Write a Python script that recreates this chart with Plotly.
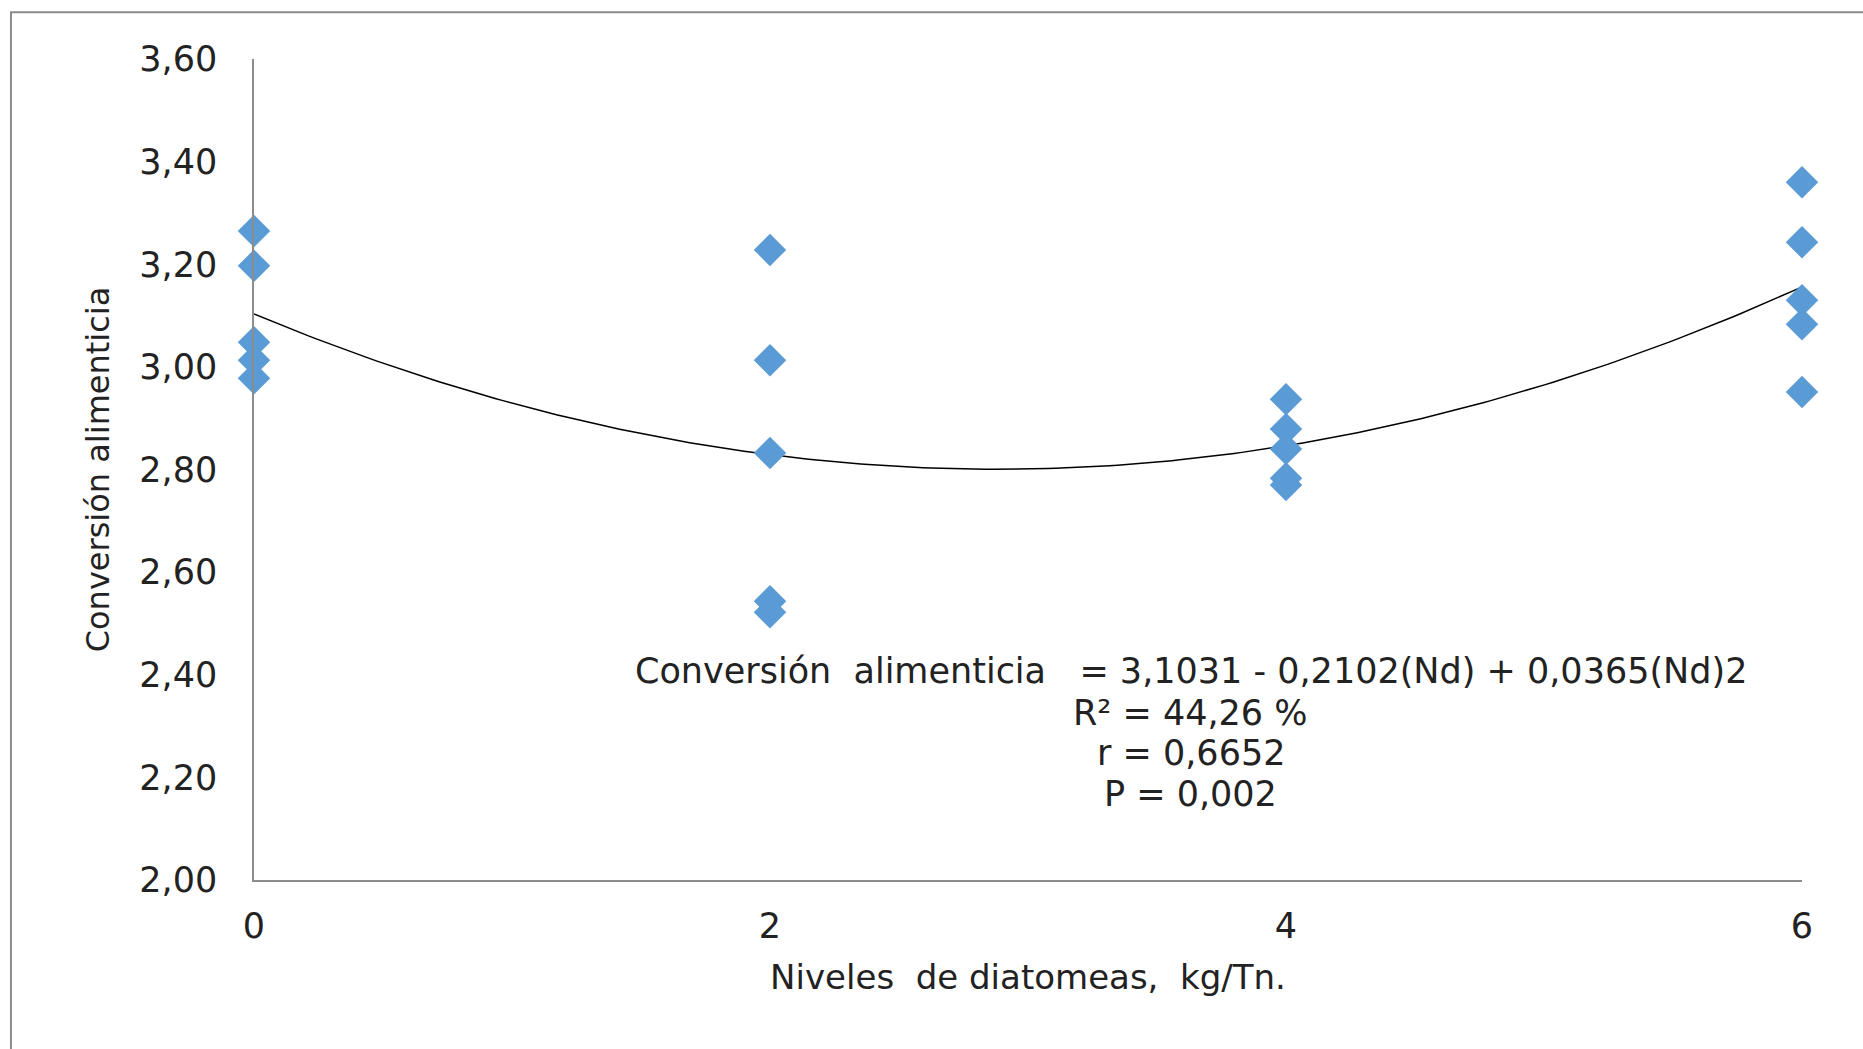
import numpy as np
import plotly.graph_objects as go

# Data
niveles = [0, 0, 0, 0, 0,
           2, 2, 2, 2, 2,
           4, 4, 4, 4, 4,
           6, 6, 6, 6, 6]
conversion = [3.265, 3.197, 3.048, 3.013, 2.978,
              3.228, 3.013, 2.832, 2.543, 2.522,
              2.937, 2.879, 2.840, 2.783, 2.770,
              3.360, 3.243, 3.130, 3.083, 2.951]

# Fitted quadratic (coefficients shown on the chart)
coef_a, coef_b, coef_c = 3.1031, -0.2102, 0.0365
y_ticks = [2.00, 2.20, 2.40, 2.60, 2.80, 3.00, 3.20, 3.40, 3.60]
y_ticklabels = ["2,00", "2,20", "2,40", "2,60", "2,80", "3,00", "3,20", "3,40", "3,60"]
x_ticks = [0, 2, 4, 6]

nb = "\u00a0"
eq_lines = [
    f"Conversión{nb}{nb}alimenticia{nb}{nb}{nb}={nb}3,1031{nb}-{nb}0,2102(Nd){nb}+{nb}0,0365(Nd)2",
    "R² = 44,26 %",
    "r = 0,6652",
    "P = 0,002",
]
eq_y = [2.407, 2.326, 2.247, 2.167]

xs = np.linspace(0, 6, 200)
ys = coef_a + coef_b * xs + coef_c * xs ** 2

FONT = "DejaVu Sans, Liberation Sans, Arial, sans-serif"
TXT = "#222222"

fig = go.Figure()
fig.add_trace(go.Scatter(
    x=xs, y=ys, mode="lines",
    line=dict(color="#000000", width=1.5),
    showlegend=False, cliponaxis=False,
))
fig.add_trace(go.Scatter(
    x=niveles, y=conversion, mode="markers",
    marker=dict(symbol="diamond", size=25, color="#5B9BD5", line=dict(width=0)),
    showlegend=False, cliponaxis=False,
))

for line, yy in zip(eq_lines, eq_y):
    fig.add_annotation(
        x=3.63, y=yy, xref="x", yref="y", text=line, showarrow=False,
        align="center", font=dict(family=FONT, size=35, color=TXT),
    )

fig.add_shape(type="rect", xref="paper", yref="paper",
              x0=-0.157, y0=-0.4, x1=1.2, y1=1.057,
              line=dict(color="#8c8c8c", width=2), fillcolor="rgba(0,0,0,0)", layer="below")

fig.update_layout(
    width=1863, height=1049,
    margin=dict(l=254, r=61, t=59, b=169),
    paper_bgcolor="white", plot_bgcolor="white",
    font=dict(family=FONT, size=35, color=TXT),
)
fig.update_xaxes(
    range=[0, 6], tickvals=x_ticks, ticktext=[str(v) for v in x_ticks],
    showgrid=False, zeroline=False, showline=True, linecolor="#8c8c8c", linewidth=1.5,
    ticks="", ticklabelstandoff=14,
    title=dict(text=f"Niveles{nb}{nb}de{nb}diatomeas,{nb}{nb}kg/Tn.", standoff=20,
               font=dict(family=FONT, size=34, color=TXT)),
)
fig.update_yaxes(
    range=[2.0, 3.6], tickvals=y_ticks, ticktext=y_ticklabels,
    showgrid=False, zeroline=False, showline=True, linecolor="#8c8c8c", linewidth=1.5,
    ticks="", ticklabelstandoff=28,
    title=dict(text="Conversión alimenticia", standoff=20,
               font=dict(family=FONT, size=32, color=TXT)),
)

fig.write_html("out.html")
